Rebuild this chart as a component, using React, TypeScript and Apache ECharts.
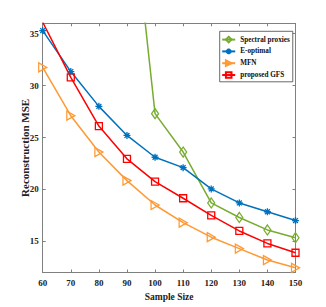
import React, { useEffect, useRef } from "react";
import * as echarts from "echarts";

const sampleSizes = [60, 70, 80, 90, 100, 110, 120, 130, 140, 150];
const spectralProxies = [null, null, null, 52.2, 27.3, 23.6, 18.7, 17.3, 16.1, 15.35];
const eOptimal = [35.3, 31.35, 28.0, 25.2, 23.1, 22.1, 20.05, 18.7, 17.85, 17.0];
const mfn = [31.75, 27.1, 23.6, 20.85, 18.5, 16.8, 15.4, 14.3, 13.2, 12.45];
const proposedGFS = [36.1, 30.8, 26.1, 22.95, 20.75, 19.15, 17.5, 16.0, 14.8, 13.9];
const seriesNames = ["Spectral proxies", "E-optimal", "MFN", "proposed GFS"];

const FONT = "'Liberation Serif', 'DejaVu Serif', serif";
const AXIS_COLOR = "#808080";

const asterisk = "path://M5,0 L5,10 M0,5 L10,5 M1.5,1.5 L8.5,8.5 M8.5,1.5 L1.5,8.5";
const triRight = "path://M0,0 L10,5 L0,10 Z";

function pairs(vals: (number | null)[]) {
  return sampleSizes.map((x, i) => [x, vals[i]]);
}

function mk(name: string, vals: (number | null)[], color: string, symbol: string, size: any) {
  return {
    name,
    type: "line",
    data: pairs(vals),
    xAxisIndex: 0,
    yAxisIndex: 0,
    color,
    symbol,
    symbolSize: size,
    showAllSymbol: true,
    clip: true,
    connectNulls: false,
    lineStyle: { color, width: 1.5 },
    itemStyle: { color: "rgba(255,255,255,0)", borderColor: color, borderWidth: 1.3 },
  };
}

export default function App() {
  const ref = useRef<HTMLDivElement>(null);
  useEffect(() => {
    if (!ref.current) return;
    const chart = echarts.init(ref.current, null, { renderer: "svg" });
    const tickLabel = { fontFamily: FONT, fontWeight: "bold", fontSize: 9, color: "#222" };
    const fmtY = (v: number) => (Math.abs(v % 5) < 1e-9 ? String(v) : "");
    chart.setOption({
      animation: false,
      backgroundColor: "#fff",
      grid: { left: 42.7, right: 30.5, top: 23.3, bottom: 34.3 },
      legend: {
        data: seriesNames,
        orient: "vertical",
        left: 219.7,
        top: 31.3,
        width: 69,
        padding: [4.5, 3, 3, 1.5],
        itemGap: 4.2,
        itemWidth: 13,
        itemHeight: 7,
        backgroundColor: "#fff",
        borderColor: "#444",
        borderWidth: 0.8,
        borderRadius: 0,
        textStyle: { fontFamily: FONT, fontWeight: "bold", fontSize: 7.2, color: "#111" },
      },
      xAxis: [
        {
          type: "value",
          min: 60,
          max: 150,
          interval: 10,
          name: "Sample Size",
          nameLocation: "middle",
          nameGap: 19.5,
          nameMoveOverlap: false,
          nameTextStyle: { fontFamily: FONT, fontWeight: "bold", fontSize: 9.5, color: "#222" },
          axisLine: { lineStyle: { color: AXIS_COLOR, width: 1 } },
          axisTick: { inside: true, length: 3, lineStyle: { color: AXIS_COLOR } },
          axisLabel: { ...tickLabel, margin: 6 },
          splitLine: { show: false },
        },
        {
          type: "value",
          position: "top",
          min: 60,
          max: 150,
          interval: 10,
          axisLine: { show: true, lineStyle: { color: AXIS_COLOR, width: 1 } },
          axisTick: { show: true, inside: true, length: 3, lineStyle: { color: AXIS_COLOR } },
          axisLabel: { show: false },
          splitLine: { show: false },
        },
      ],
      yAxis: [
        {
          type: "value",
          min: 12,
          max: 36,
          splitNumber: 5,
          name: "Reconstruction MSE",
          nameLocation: "middle",
          nameGap: 12,
          nameMoveOverlap: false,
          nameRotate: 90,
          nameTextStyle: { fontFamily: FONT, fontWeight: "bold", fontSize: 11, color: "#222" },
          axisLine: { show: true, lineStyle: { color: AXIS_COLOR, width: 1 } },
          axisTick: { show: true, inside: true, length: 3, lineStyle: { color: AXIS_COLOR } },
          axisLabel: { ...tickLabel, margin: 4, formatter: fmtY },
          splitLine: { show: false },
        },
        {
          type: "value",
          position: "right",
          min: 12,
          max: 36,
          splitNumber: 5,
          axisLine: { show: true, lineStyle: { color: AXIS_COLOR, width: 1 } },
          axisTick: { show: true, inside: true, length: 3, lineStyle: { color: AXIS_COLOR } },
          axisLabel: { show: false },
          splitLine: { show: false },
        },
      ],
      series: [
        mk(seriesNames[0], spectralProxies, "#77AC30", "diamond", [7, 10]),
        mk(seriesNames[1], eOptimal, "#0072BD", asterisk, 7),
        mk(seriesNames[2], mfn, "#FF9933", triRight, [8, 9]),
        mk(seriesNames[3], proposedGFS, "#FF0000", "rect", 7),
      ],
    });
    return () => chart.dispose();
  }, []);
  return (
    <div
      ref={ref}
      style={{ position: "fixed", left: 0, top: 0, width: 326, height: 307, background: "#fff" }}
    />
  );
}
